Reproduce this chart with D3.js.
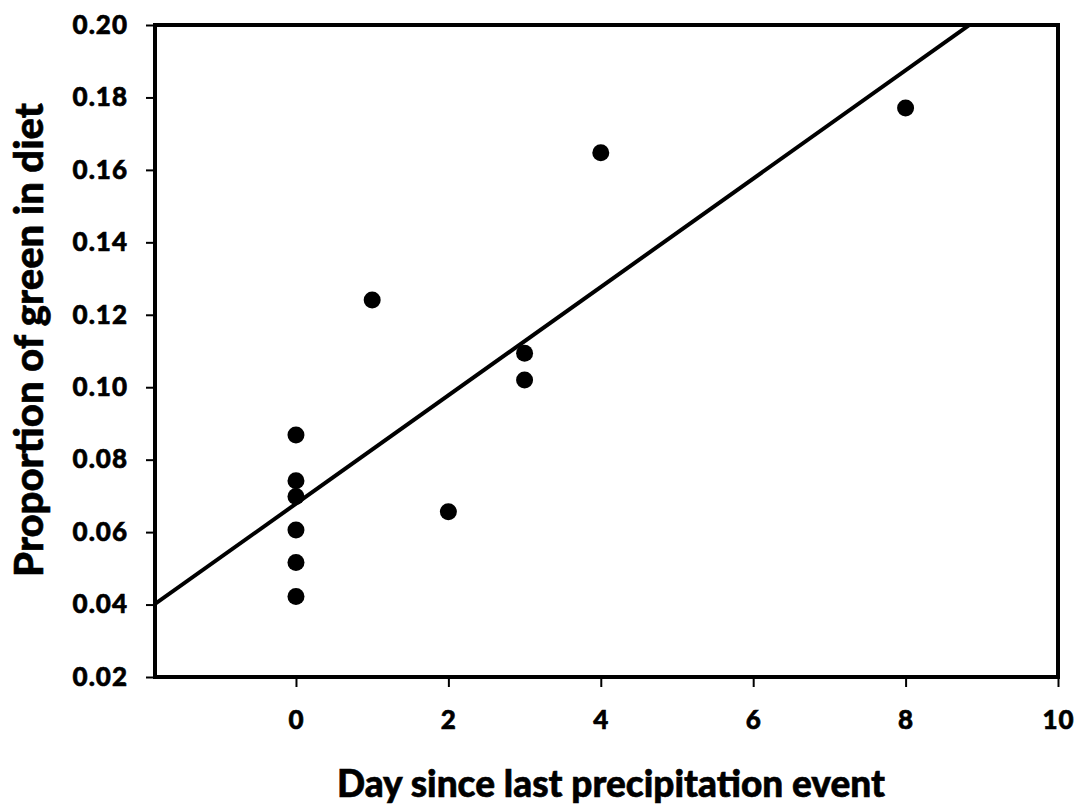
<!DOCTYPE html>
<html>
<head>
<meta charset="utf-8">
<script src="https://cdn.jsdelivr.net/npm/d3@7.9.0/dist/d3.min.js"></script>
<style>
  body { margin: 0; background: #fff; }
  text { font-family: Lato, "Open Sans", sans-serif; font-weight: 900; fill: #000; stroke: #000; stroke-width: 0.6px; }
</style>
</head>
<body>
<svg id="chart" width="1077" height="807"></svg>
<script>
// values
const days = [0, 0, 0, 0, 0, 0, 2, 1, 3, 3, 4, 8];
const green = [0.0868, 0.0742, 0.0698, 0.0606, 0.0516, 0.0422, 0.0656, 0.1241, 0.1094, 0.102, 0.1647, 0.1771];
const xTicks = [0, 2, 4, 6, 8, 10];
const yTicks = [0.02, 0.04, 0.06, 0.08, 0.10, 0.12, 0.14, 0.16, 0.18, 0.20];

const svg = d3.select("#chart");
const m = { left: 155, right: 1058, top: 25, bottom: 677 };

const x = d3.scaleLinear().domain([-1.85, 10]).range([m.left, m.right]);
const y = d3.scaleLinear().domain([0.02, 0.20]).range([m.bottom, m.top]);

// axes
const yAxis = svg.append("g")
  .attr("transform", `translate(${m.left},0)`)
  .call(d3.axisLeft(y).tickValues(yTicks).tickFormat(d3.format(".2f")).tickSize(9).tickSizeOuter(0).tickPadding(18));
const xAxis = svg.append("g")
  .attr("transform", `translate(0,${m.bottom})`)
  .call(d3.axisBottom(x).tickValues(xTicks).tickSize(10).tickSizeOuter(0).tickPadding(24));
[yAxis, xAxis].forEach(a => {
  a.select(".domain").remove();
  a.selectAll(".tick line").attr("stroke", "#000").attr("stroke-width", 2);
  a.selectAll(".tick text").style("font-size", "26px").style("letter-spacing", "1px");
});

// plot frame
svg.append("rect")
  .attr("x", m.left).attr("y", m.top)
  .attr("width", m.right - m.left).attr("height", m.bottom - m.top)
  .attr("fill", "none").attr("stroke", "#000").attr("stroke-width", 4);

// least squares fit
const mx = d3.mean(days), my = d3.mean(green);
const slope = d3.sum(days, (d, i) => (d - mx) * (green[i] - my)) / d3.sum(days, d => (d - mx) ** 2);
const icpt = my - slope * mx;

svg.append("clipPath").attr("id", "plot")
  .append("rect").attr("x", m.left).attr("y", m.top).attr("width", m.right - m.left).attr("height", m.bottom - m.top);

svg.append("line")
  .attr("clip-path", "url(#plot)")
  .attr("x1", x(-1.85)).attr("y1", y(icpt + slope * -1.85))
  .attr("x2", x(10)).attr("y2", y(icpt + slope * 10))
  .attr("stroke", "#000").attr("stroke-width", 4);

svg.append("g").selectAll("circle")
  .data(days)
  .join("circle")
  .attr("cx", d => x(d))
  .attr("cy", (d, i) => y(green[i]))
  .attr("r", 8.5)
  .attr("fill", "#000");

// titles
svg.append("text")
  .attr("x", 611).attr("y", 797)
  .attr("text-anchor", "middle")
  .style("font-size", "37px")
  .text("Day since last precipitation event");

svg.append("text")
  .attr("transform", "translate(43,340) rotate(-90)")
  .attr("text-anchor", "middle")
  .style("font-size", "40px")
  .text("Proportion of green in diet");
</script>
</body>
</html>
